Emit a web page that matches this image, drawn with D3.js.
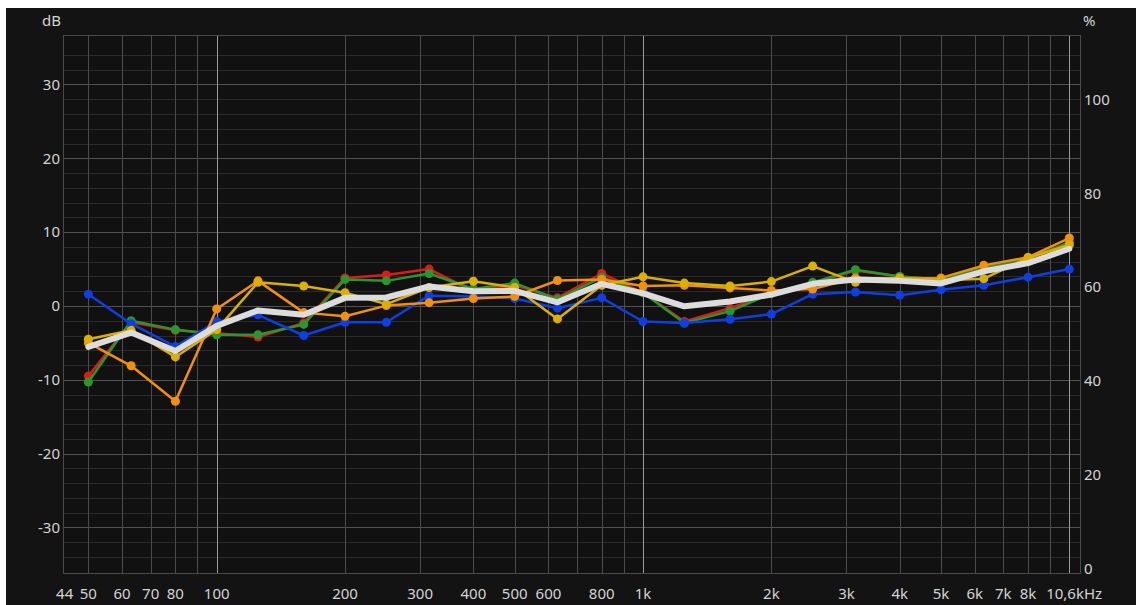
<!DOCTYPE html>
<html>
<head>
<meta charset="utf-8">
<script src="https://cdn.jsdelivr.net/npm/d3@7"></script>
<style>
  html, body { margin: 0; padding: 0; background: #ffffff; }
  svg { display: block; }
  text { font-family: "Noto Sans", "Open Sans", sans-serif; }
</style>
</head>
<body>
<svg id="chart" width="1136" height="605"></svg>
<script>
// Third-octave band centres (Hz)
const freqs = [50, 63, 80, 100, 125, 160, 200, 250, 315, 400, 500, 630, 800, 1000, 1250, 1600, 2000, 2500, 3150, 4000, 5000, 6300, 8000, 10000];

// Level per band (dB) for each measurement
const redLevels    = [-9.5, -2.2, -3.3, -3.7, -4.2, -2.3, 3.8, 4.2, 5.0, 2.0, 2.8, 1.1, 4.4, 1.8, -2.1, -0.3, 1.7, 3.1, 4.8, 4.0, 3.6, 5.2, 6.4, 8.6];
const greenLevels  = [-10.3, -2.0, -3.2, -3.9, -3.9, -2.5, 3.6, 3.4, 4.4, 2.3, 3.1, 0.9, 3.9, 1.8, -2.3, -0.7, 1.7, 3.2, 4.9, 4.0, 3.6, 5.3, 6.4, 8.6];
const blueLevels   = [1.6, -2.4, -5.5, -2.1, -1.2, -4.0, -2.2, -2.2, 1.4, 1.3, 1.0, -0.3, 1.1, -2.1, -2.3, -1.8, -1.1, 1.6, 1.9, 1.45, 2.2, 2.8, 3.9, 5.0];
const orangeLevels = [-5.0, -8.1, -12.9, -0.4, 3.4, -0.9, -1.4, 0.05, 0.45, 1.0, 1.3, 3.45, 3.6, 2.7, 2.8, 2.45, 2.1, 2.3, 3.8, 3.7, 3.8, 5.5, 6.6, 9.2];
const yellowLevels = [-4.5, -3.3, -6.9, -3.2, 3.2, 2.7, 1.8, 0.25, 2.5, 3.35, 2.5, -1.75, 2.8, 3.95, 3.1, 2.7, 3.3, 5.4, 3.2, 3.8, 3.5, 3.7, 6.5, 8.3];
const averageLevels = [-5.55, -3.6, -6.1, -2.7, -0.6, -1.2, 1.1, 1.15, 2.65, 2.0, 2.05, 0.5, 3.0, 1.7, -0.05, 0.6, 1.55, 3.0, 3.6, 3.4, 3.05, 4.7, 5.8, 7.75];

// Axis ticks and labels
const dbTicks = [-30, -20, -10, 0, 10, 20, 30];
const pctTicks = [0, 20, 40, 60, 80, 100];
const freqTicks = [44, 50, 60, 70, 80, 100, 200, 300, 400, 500, 600, 800, 1000, 2000, 3000, 4000, 5000, 6000, 7000, 8000, 10600];
const freqTickLabels = ["44", "50", "60", "70", "80", "100", "200", "300", "400", "500", "600", "800", "1k", "2k", "3k", "4k", "5k", "6k", "7k", "8k", "10,6kHz"];
const freqGridLines = [50, 60, 70, 80, 90, 100, 200, 300, 400, 500, 600, 700, 800, 900, 1000,
                       2000, 3000, 4000, 5000, 6000, 7000, 8000, 9000, 10000];
const decadeLines = [100, 1000, 10000];

const svg = d3.select("#chart");
const plot = { left: 63, top: 35, right: 1081, bottom: 574 };

const x = d3.scaleLog().domain([43.6, 10650]).range([plot.left, plot.right]);
const y = d3.scaleLinear().domain([-36.3, 36.7]).range([plot.bottom, plot.top]);
const yPct = d3.scaleLinear().domain([-1.2, 113.8]).range([plot.bottom, plot.top]);

// panel
svg.append("rect").attr("x", 6).attr("y", 8).attr("width", 1130).attr("height", 597).attr("fill", "#131313");
svg.append("rect").attr("x", plot.left).attr("y", plot.top)
  .attr("width", plot.right - plot.left).attr("height", plot.bottom - plot.top).attr("fill", "#111111");

// horizontal grid (2 dB steps, brighter every 10 dB)
const grid = svg.append("g").attr("shape-rendering", "crispEdges");
const hLines = d3.range(-34, 35, 2);
grid.selectAll("line.h").data(hLines).join("line")
  .attr("x1", plot.left).attr("x2", plot.right)
  .attr("y1", d => Math.round(y(d)) + 0.5).attr("y2", d => Math.round(y(d)) + 0.5)
  .attr("stroke", d => d % 10 === 0 ? "#525252" : "#2b2b2b").attr("stroke-width", 1);

// vertical grid
grid.selectAll("line.v").data(freqGridLines).join("line")
  .attr("y1", plot.top).attr("y2", plot.bottom)
  .attr("x1", d => Math.round(x(d)) + 0.5).attr("x2", d => Math.round(x(d)) + 0.5)
  .attr("stroke", d => decadeLines.includes(d) ? "#9a9a9a" : "#4c4c4c").attr("stroke-width", 1);

// plot frame
svg.append("rect").attr("x", plot.left + 0.5).attr("y", plot.top + 0.5)
  .attr("width", plot.right - plot.left - 1).attr("height", plot.bottom - plot.top - 1)
  .attr("fill", "none").attr("stroke", "#4a4a4a").attr("shape-rendering", "crispEdges");

// axis labels
const labelColor = "#d4d4d4";
const fs = 15;
svg.append("g").selectAll("text").data(dbTicks).join("text")
  .attr("x", 60).attr("y", d => y(d)).attr("dy", "0.35em")
  .attr("text-anchor", "end").attr("fill", labelColor).attr("font-size", fs)
  .text(d => String(d));

svg.append("g").selectAll("text").data(pctTicks).join("text")
  .attr("x", 1084).attr("y", d => yPct(d)).attr("dy", "0.35em")
  .attr("text-anchor", "start").attr("fill", labelColor).attr("font-size", fs)
  .text(d => String(d));

svg.append("g").selectAll("text").data(freqTicks).join("text")
  .attr("x", (d, i) => i === freqTicks.length - 1 ? x(d) + 22 : x(d))
  .attr("y", 599)
  .attr("text-anchor", (d, i) => i === freqTicks.length - 1 ? "end" : "middle")
  .attr("fill", labelColor).attr("font-size", fs)
  .text((d, i) => freqTickLabels[i]);

svg.append("text").attr("x", 61).attr("y", 26).attr("text-anchor", "end")
  .attr("fill", labelColor).attr("font-size", fs).text("dB");
svg.append("text").attr("x", 1083).attr("y", 26).attr("text-anchor", "start")
  .attr("fill", labelColor).attr("font-size", fs).text("%");

// measurement curves
const series = [
  { values: redLevels,    color: "#dc1c14" },
  { values: greenLevels,  color: "#2a962e" },
  { values: blueLevels,   color: "#0f3fe0" },
  { values: orangeLevels, color: "#f2900e" },
  { values: yellowLevels, color: "#dcb000" }
];

const line = d3.line().x(d => x(d.f)).y(d => y(d.v));
const curves = svg.append("g");
series.forEach(s => {
  const pts = freqs.map((f, i) => ({ f, v: s.values[i] }));
  const g = curves.append("g");
  g.append("path").datum(pts).attr("d", line)
    .attr("fill", "none").attr("stroke", s.color).attr("stroke-width", 2.5)
    .attr("stroke-linejoin", "round");
  g.selectAll("circle").data(pts).join("circle")
    .attr("cx", d => x(d.f)).attr("cy", d => y(d.v)).attr("r", 4.5)
    .attr("fill", s.color);
});

// average curve
const avgPts = freqs.map((f, i) => ({ f, v: averageLevels[i] }));
svg.append("path").datum(avgPts).attr("d", line)
  .attr("fill", "none").attr("stroke", "#dcdcdc").attr("stroke-width", 6)
  .attr("stroke-linejoin", "round").attr("stroke-linecap", "round");
</script>
</body>
</html>
